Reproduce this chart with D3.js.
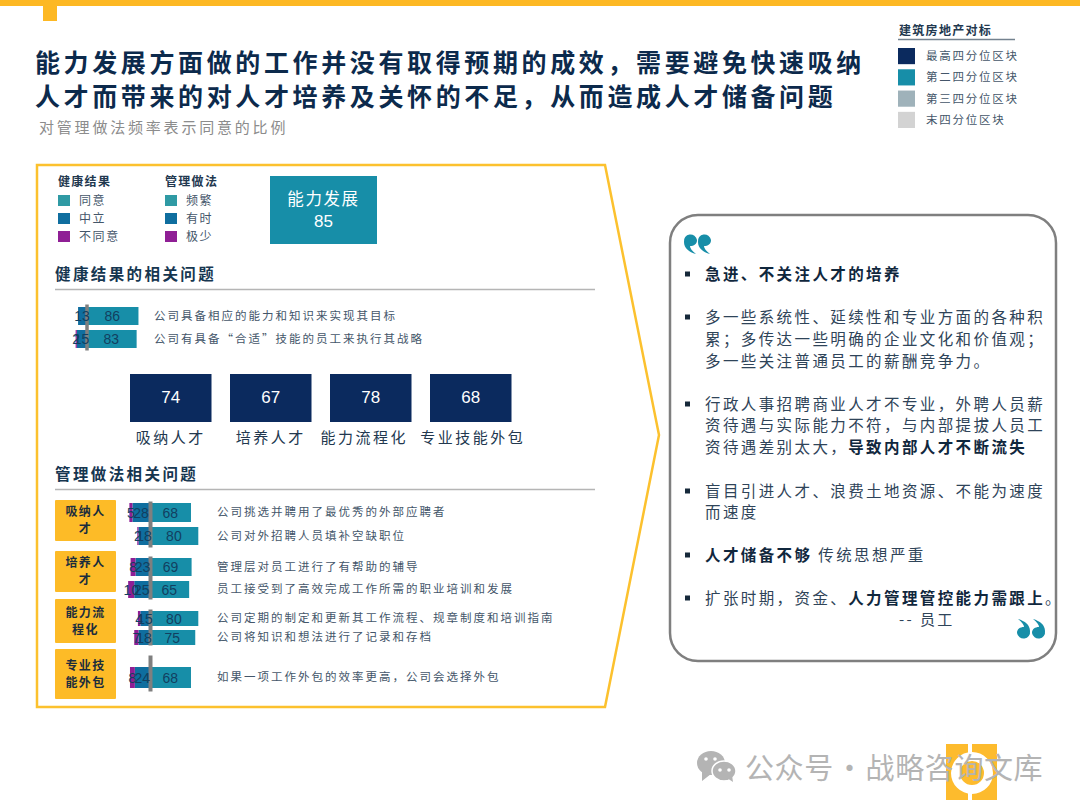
<!DOCTYPE html>
<html>
<head>
<meta charset="utf-8">
<script src="https://cdn.jsdelivr.net/npm/d3@7"></script>
<style>
  html, body { margin: 0; padding: 0; background: #fff; }
  svg { display: block; }
  text { font-family: "Noto Sans CJK SC", "Noto Sans", sans-serif; }
  .num { font-family: "Liberation Sans", Arial, sans-serif; }
</style>
</head>
<body>
<div id="chart"></div>
<script>
// data
var titleLines = ["能力发展方面做的工作并没有取得预期的成效，需要避免快速吸纳", "人才而带来的对人才培养及关怀的不足，从而造成人才储备问题"];
var subtitle = "对管理做法频率表示同意的比例";
var benchTitle = "建筑房地产对标";
var benchLabels = ["最高四分位区块", "第二四分位区块", "第三四分位区块", "末四分位区块"];
var healthLegend = ["同意", "中立", "不同意"];
var practiceLegend = ["频繁", "有时", "极少"];
var mainName = "能力发展";
var mainScore = 85;

var healthRows = ["公司具备相应的能力和知识来实现其目标", "公司有具备“合适”技能的员工来执行其战略"];
var healthHigh = [86, 83];
var healthMid = [13, 15];
var healthLow = [0, 2];

var practiceNames = ["吸纳人才", "培养人才", "能力流程化", "专业技能外包"];
var practiceScores = [74, 67, 78, 68];

var groupLines = [["吸纳人", "才"], ["培养人", "才"], ["能力流", "程化"], ["专业技", "能外包"]];
var groupSizes = [2, 2, 2, 1];
var mgmtRows = [
  "公司挑选并聘用了最优秀的外部应聘者",
  "公司对外招聘人员填补空缺职位",
  "管理层对员工进行了有帮助的辅导",
  "员工接受到了高效完成工作所需的职业培训和发展",
  "公司定期的制定和更新其工作流程、规章制度和培训指南",
  "公司将知识和想法进行了记录和存档",
  "如果一项工作外包的效率更高，公司会选择外包"
];
var mgmtHigh = [68, 80, 69, 65, 80, 75, 68];
var mgmtMid = [28, 18, 23, 25, 15, 18, 24];
var mgmtLow = [5, 2, 8, 10, 4, 7, 8];

// quote lines, [text, bold] runs per line; bullet marks the start of an item
var quoteLines = [
  { bullet: true, runs: [["急进、不关注人才的培养", 1]] },
  { bullet: true, runs: [["多一些系统性、延续性和专业方面的各种积", 0]] },
  { runs: [["累；多传达一些明确的企业文化和价值观；", 0]] },
  { runs: [["多一些关注普通员工的薪酬竞争力。", 0]] },
  { bullet: true, runs: [["行政人事招聘商业人才不专业，外聘人员薪", 0]] },
  { runs: [["资待遇与实际能力不符，与内部提拔人员工", 0]] },
  { runs: [["资待遇差别太大，", 0], ["导致内部人才不断流失", 1]] },
  { bullet: true, runs: [["盲目引进人才、浪费土地资源、不能为速度", 0]] },
  { runs: [["而速度", 0]] },
  { bullet: true, runs: [["人才储备不够", 1], [" 传统思想严重", 0]] },
  { bullet: true, runs: [["扩张时期，资金、", 0], ["人力管理管控能力需跟上", 1], ["。", 0]] }
];
var quoteAuthor = "-- 员工";
var watermark = "公众号 · 战略咨询文库";

// colours
var YELLOW = "#fdb823", NAVY = "#0b2a5e", TEAL = "#178ea8", INK = "#0f2d4d", GREY = "#7f7f7f";
var benchColors = [NAVY, TEAL, "#9fb2ba", "#d3d3d3"];
var stackColors = [TEAL, "#0f6e9f", "#8f1f95"];
var legendColors = ["#2f9aa4", "#0f6e9f", "#8f1f95"];

var svg = d3.select("#chart").append("svg").attr("width", 1080).attr("height", 810);

function label(x, y, s, size, o) {
  o = o || {};
  // the CJK face sits a little low on the central baseline
  var dy = o.cls === "num" ? 0 : -1.5;
  return svg.append("text")
    .attr("x", x).attr("y", y + dy)
    .attr("dominant-baseline", "central")
    .attr("text-anchor", o.anchor || "start")
    .attr("class", o.cls || null)
    .style("font-size", size + "px")
    .style("font-weight", o.weight || 400)
    .style("letter-spacing", (o.ls || 0) + "px")
    .style("fill", o.fill || INK)
    .text(s);
}

// watermark logo goes under everything else
var logo = svg.append("g");
logo.selectAll("rect").data([[946, 22], [972, 25]]).enter().append("rect")
  .attr("x", function (d) { return d[0]; }).attr("y", 744)
  .attr("width", function (d) { return d[1]; }).attr("height", 56)
  .attr("fill", "#fdbb2d");
logo.append("circle").attr("cx", 972).attr("cy", 773).attr("r", 16.5)
  .attr("fill", "#fdbb2d").attr("stroke", "#fff").attr("stroke-width", 9);

// top band
svg.append("rect").attr("width", 1080).attr("height", 6).attr("fill", YELLOW);
svg.append("rect").attr("x", 43).attr("width", 14).attr("height", 21).attr("fill", YELLOW);

titleLines.forEach(function (t, i) {
  label(35, 62 + i * 34, t, 25, { weight: 700, ls: 3.62, fill: "#0c2a4c" });
});
label(39, 128, subtitle, 15, { ls: 2.8, fill: "#8c8c8c" });

// benchmark legend
label(899, 31, benchTitle, 12, { weight: 700, ls: 1.3, fill: "#22384f" });
svg.append("line").attr("x1", 898).attr("x2", 1015).attr("y1", 39.5).attr("y2", 39.5)
  .attr("stroke", "#74828f").attr("stroke-width", 1.5);
var benchY = d3.scaleBand().domain(benchLabels).range([48, 128]).paddingInner(0.24).paddingOuter(0);
benchLabels.forEach(function (t, i) {
  svg.append("rect").attr("x", 898).attr("y", benchY(t)).attr("width", 17).attr("height", benchY.bandwidth()).attr("fill", benchColors[i]);
  label(926, benchY(t) + benchY.bandwidth() / 2 + 0.5, t, 11.5, { ls: 1.75, fill: "#44566a" });
});

// arrow panel
svg.append("path").attr("d", "M37,165H605L659,435L605,707H37Z")
  .attr("fill", "#fff").attr("stroke", "#fcc12e").attr("stroke-width", 2.5);

// small legends
function smallLegend(x, head, items) {
  label(x, 182, head, 12, { weight: 700, ls: 1.3, fill: "#22384f" });
  var y = d3.scalePoint().domain(items).range([201, 237]);
  items.forEach(function (t, i) {
    svg.append("rect").attr("x", x).attr("y", y(t) - 6).attr("width", 12).attr("height", 11).attr("fill", legendColors[i]);
    label(x + 21, y(t), t, 12, { ls: 1.6, fill: "#44566a" });
  });
}
smallLegend(58, "健康结果", healthLegend);
smallLegend(165, "管理做法", practiceLegend);

svg.append("rect").attr("x", 270).attr("y", 176).attr("width", 107).attr("height", 68).attr("fill", TEAL);
label(323.5, 199, mainName, 16.5, { anchor: "middle", ls: 1.6, fill: "#fff" });
label(323.5, 221, mainScore, 17, { anchor: "middle", cls: "num", fill: "#fff" });

// section headings
function section(y, t) {
  label(55, y, t, 15.5, { weight: 700, ls: 2.4, fill: "#163650" });
  svg.append("line").attr("x1", 55).attr("x2", 595).attr("y1", y + 15.5).attr("y2", y + 15.5)
    .attr("stroke", "#b5b5b5").attr("stroke-width", 1.5);
}
section(274, "健康结果的相关问题");
section(474, "管理做法相关问题");

// diverging bars: neutral and low stack left of the axis, high runs right
var unit = 0.61;
function barSpans(x, i, high, mid, low) {
  var back = function (v) { return x(-v); };
  return [
    [x(0), x(high[i]), stackColors[0], high[i]],
    [back(mid[i]), x(0), stackColors[1], mid[i]],
    [back(mid[i] + low[i]), back(mid[i]), stackColors[2], low[i]]
  ].filter(function (s) { return s[3] > 0; });
}
function drawBars(x, textX, names, high, mid, low, yTop, heights) {
  names.forEach(function (name, i) {
    barSpans(x, i, high, mid, low).forEach(function (s) {
      svg.append("rect").attr("x", s[0]).attr("y", yTop[i]).attr("width", s[1] - s[0]).attr("height", heights[i]).attr("fill", s[2]);
    });
    label(textX, yTop[i] + heights[i] / 2, name, 11.5, { ls: 2, fill: "#44566a" });
  });
}
// values go on after the spine, the reference shows them on top of it
function drawValues(x, names, high, mid, low, yTop, heights) {
  names.forEach(function (name, i) {
    barSpans(x, i, high, mid, low).forEach(function (s) {
      label((s[0] + s[1]) / 2, yTop[i] + heights[i] / 2, s[3], 14, { anchor: "middle", cls: "num", fill: "#123f60" });
    });
  });
}
function spine(x, y0, y1, width) {
  var axis = d3.axisLeft(d3.scaleLinear().domain([0, 1]).range([y0, y1])).tickValues([]).tickSizeOuter(0);
  var g = svg.append("g").attr("transform", "translate(" + x + ",0)").call(axis);
  g.select(".domain").attr("stroke", GREY).attr("stroke-width", width);
}

var hx = d3.scaleLinear().domain([0, 100]).range([86, 86 + 100 * unit]);
var healthTop = [307, 330], healthH = [18, 18];
drawBars(hx, 154, healthRows, healthHigh, healthMid, healthLow, healthTop, healthH);
spine(hx(0) + 0.5, 304, 350, 3.5);
drawValues(hx, healthRows, healthHigh, healthMid, healthLow, healthTop, healthH);

// practice score tiles, the two long captions sit off-centre in the reference
var tileX = d3.scaleBand().domain(practiceNames).range([130, 511.5]).paddingInner(0.185).paddingOuter(0);
var captionShift = [0, 0, -6.5, 2];
practiceNames.forEach(function (n, i) {
  var bx = tileX(n), w = tileX.bandwidth();
  svg.append("rect").attr("x", bx).attr("y", 374).attr("width", w).attr("height", 48).attr("fill", NAVY);
  label(bx + w / 2, 397, practiceScores[i], 17, { anchor: "middle", cls: "num", fill: "#fff" });
  label(bx + w / 2 + captionShift[i], 438, n, 15, { anchor: "middle", ls: 2.5, fill: "#22384f" });
});

var mx = d3.scaleLinear().domain([0, 100]).range([149.5, 149.5 + 100 * unit]);
var mgmtTop = [503, 527, 558, 581, 611, 630, 667], mgmtH = [19, 18, 18, 17, 15, 15, 21];
drawBars(mx, 217, mgmtRows, mgmtHigh, mgmtMid, mgmtLow, mgmtTop, mgmtH);

// yellow group tags and their spines
var tagTop = [500, 551, 599, 649], tagH = [41, 41, 44, 50];
var spineTop = [501, 556, 609, 655], spineBottom = [547, 599, 645, 691];
groupSizes.forEach(function (n, i) {
  svg.append("rect").attr("x", 55).attr("y", tagTop[i]).attr("width", 61).attr("height", tagH[i]).attr("rx", 1).attr("fill", "#fdbb27");
  var c = tagTop[i] + tagH[i] / 2;
  groupLines[i].forEach(function (t, j) {
    label(85.5, c + (j - 0.5) * 17, t, 12, { anchor: "middle", weight: 700, ls: 1.4, fill: "#1b2d3d" });
  });
  spine(mx(0) + 0.5, spineTop[i], spineBottom[i], 4);
});
drawValues(mx, mgmtRows, mgmtHigh, mgmtMid, mgmtLow, mgmtTop, mgmtH);

// quote box
svg.append("rect").attr("x", 670).attr("y", 215).attr("width", 386).attr("height", 446).attr("rx", 28)
  .attr("fill", "#fff").attr("stroke", GREY).attr("stroke-width", 2.5);

var quoteY = [274, 317, 339, 361, 404, 425, 447, 491, 512, 555, 598];
quoteLines.forEach(function (l, i) {
  if (l.bullet) svg.append("rect").attr("x", 685).attr("y", quoteY[i] - 2.5).attr("width", 5).attr("height", 5).attr("fill", "#16293a");
  var t = label(705, quoteY[i], "", 15.5, { ls: 2.4, fill: "#2f4459" });
  l.runs.forEach(function (r) {
    t.append("tspan").text(r[0]).style("font-weight", r[1] ? 700 : 400).style("fill", r[1] ? "#10273d" : "#2f4459");
  });
});
label(899, 620, quoteAuthor, 15, { ls: 2.4, fill: "#2f4459" });

// quote marks
function quoteMark(x, y, flip) {
  var d = "M13,-5A6.5,6.5 0 0 0 0,-3C0,3 5,7 12,9C8,6 6,3 6,1C10,1 13,-1 13,-5Z";
  svg.append("path").attr("d", d).attr("fill", TEAL)
    .attr("transform", "translate(" + x + "," + y + ")" + (flip ? " rotate(180)" : ""));
}
quoteMark(684, 245, false);
quoteMark(698, 245, false);
quoteMark(1030, 628, true);
quoteMark(1045, 628, true);

// watermark
var wx = svg.append("g").attr("fill", "#b4b4b4");
wx.append("ellipse").attr("cx", 711).attr("cy", 763).attr("rx", 14).attr("ry", 12);
wx.append("ellipse").attr("cx", 724).attr("cy", 771).attr("rx", 12).attr("ry", 10).attr("stroke", "#fff").attr("stroke-width", 1.5);
wx.append("path").attr("d", "M702,771L702,781L711,774ZM727,778L733,782L732,775Z");
svg.selectAll(".eye").data([[706, 759], [715, 759], [720, 770], [729, 770]]).enter().append("circle")
  .attr("cx", function (d) { return d[0]; }).attr("cy", function (d) { return d[1]; }).attr("r", 1.8).attr("fill", "#fff");
label(745, 767, watermark, 29, { ls: 0.6, fill: "#b4b4b4" }).style("word-spacing", "-6px");
</script>
</body>
</html>
